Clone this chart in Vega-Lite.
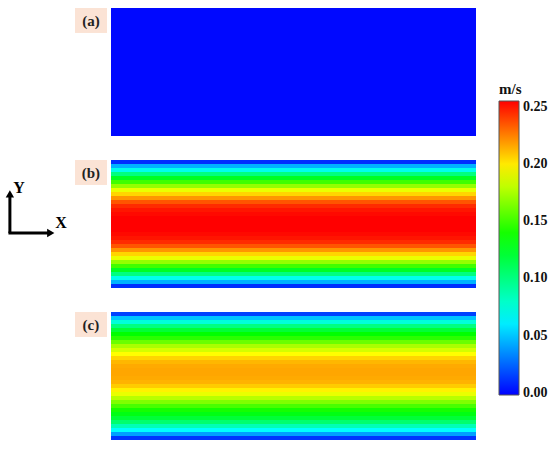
{
  "$schema": "https://vega.github.io/schema/vega-lite/v6.json",
  "background": "white",
  "padding": {"left": 5, "top": 8, "right": 5, "bottom": 5},
  "autosize": {"type": "pad"},
  "config": {"view": {"stroke": null}, "font": "Liberation Serif"},
  "datasets": {
    "a": [{"t0": 0, "t1": 1, "v": 0}],
    "b": [
      {"t0": 0.00000, "t1": 0.03125, "v": 0.010},
      {"t0": 0.03125, "t1": 0.06250, "v": 0.045},
      {"t0": 0.06250, "t1": 0.09375, "v": 0.070},
      {"t0": 0.09375, "t1": 0.12500, "v": 0.100},
      {"t0": 0.12500, "t1": 0.15625, "v": 0.125},
      {"t0": 0.15625, "t1": 0.18750, "v": 0.150},
      {"t0": 0.18750, "t1": 0.21875, "v": 0.170},
      {"t0": 0.21875, "t1": 0.25000, "v": 0.190},
      {"t0": 0.25000, "t1": 0.28125, "v": 0.205},
      {"t0": 0.28125, "t1": 0.31250, "v": 0.220},
      {"t0": 0.31250, "t1": 0.34375, "v": 0.235},
      {"t0": 0.34375, "t1": 0.37500, "v": 0.245},
      {"t0": 0.37500, "t1": 0.40625, "v": 0.250},
      {"t0": 0.40625, "t1": 0.43750, "v": 0.253},
      {"t0": 0.43750, "t1": 0.46875, "v": 0.255},
      {"t0": 0.46875, "t1": 0.50000, "v": 0.255},
      {"t0": 0.50000, "t1": 0.53125, "v": 0.255},
      {"t0": 0.53125, "t1": 0.56250, "v": 0.255},
      {"t0": 0.56250, "t1": 0.59375, "v": 0.253},
      {"t0": 0.59375, "t1": 0.62500, "v": 0.250},
      {"t0": 0.62500, "t1": 0.65625, "v": 0.245},
      {"t0": 0.65625, "t1": 0.68750, "v": 0.235},
      {"t0": 0.68750, "t1": 0.71875, "v": 0.220},
      {"t0": 0.71875, "t1": 0.75000, "v": 0.205},
      {"t0": 0.75000, "t1": 0.78125, "v": 0.190},
      {"t0": 0.78125, "t1": 0.81250, "v": 0.170},
      {"t0": 0.81250, "t1": 0.84375, "v": 0.150},
      {"t0": 0.84375, "t1": 0.87500, "v": 0.125},
      {"t0": 0.87500, "t1": 0.90625, "v": 0.100},
      {"t0": 0.90625, "t1": 0.93750, "v": 0.070},
      {"t0": 0.93750, "t1": 0.96875, "v": 0.045},
      {"t0": 0.96875, "t1": 1.00000, "v": 0.010}
    ],
    "c": [
      {"t0": 0.00000, "t1": 0.03125, "v": 0.015},
      {"t0": 0.03125, "t1": 0.06250, "v": 0.050},
      {"t0": 0.06250, "t1": 0.09375, "v": 0.075},
      {"t0": 0.09375, "t1": 0.12500, "v": 0.100},
      {"t0": 0.12500, "t1": 0.15625, "v": 0.120},
      {"t0": 0.15625, "t1": 0.18750, "v": 0.135},
      {"t0": 0.18750, "t1": 0.21875, "v": 0.145},
      {"t0": 0.21875, "t1": 0.25000, "v": 0.160},
      {"t0": 0.25000, "t1": 0.28125, "v": 0.175},
      {"t0": 0.28125, "t1": 0.31250, "v": 0.185},
      {"t0": 0.31250, "t1": 0.34375, "v": 0.195},
      {"t0": 0.34375, "t1": 0.37500, "v": 0.205},
      {"t0": 0.37500, "t1": 0.40625, "v": 0.212},
      {"t0": 0.40625, "t1": 0.43750, "v": 0.215},
      {"t0": 0.43750, "t1": 0.46875, "v": 0.216},
      {"t0": 0.46875, "t1": 0.50000, "v": 0.216},
      {"t0": 0.50000, "t1": 0.53125, "v": 0.215},
      {"t0": 0.53125, "t1": 0.56250, "v": 0.213},
      {"t0": 0.56250, "t1": 0.59375, "v": 0.207},
      {"t0": 0.59375, "t1": 0.62500, "v": 0.198},
      {"t0": 0.62500, "t1": 0.65625, "v": 0.190},
      {"t0": 0.65625, "t1": 0.68750, "v": 0.178},
      {"t0": 0.68750, "t1": 0.71875, "v": 0.165},
      {"t0": 0.71875, "t1": 0.75000, "v": 0.152},
      {"t0": 0.75000, "t1": 0.78125, "v": 0.140},
      {"t0": 0.78125, "t1": 0.81250, "v": 0.130},
      {"t0": 0.81250, "t1": 0.84375, "v": 0.120},
      {"t0": 0.84375, "t1": 0.87500, "v": 0.105},
      {"t0": 0.87500, "t1": 0.90625, "v": 0.085},
      {"t0": 0.90625, "t1": 0.93750, "v": 0.065},
      {"t0": 0.93750, "t1": 0.96875, "v": 0.040},
      {"t0": 0.96875, "t1": 1.00000, "v": 0.012}
    ]
  },
  "vconcat": [
    {
      "width": 365, "height": 128,
      "layer": [
        {
          "data": {"name": "a"},
          "mark": {"type": "rect"},
          "encoding": {
            "y": {"field": "t0", "type": "quantitative", "scale": {"domain": [0, 1], "reverse": true}, "axis": null},
            "y2": {"field": "t1"},
            "color": {"field": "v", "type": "quantitative",
              "scale": {"domain": [-0.002, 0.065, 0.135, 0.195, 0.255], "range": ["#0000ff", "#00ffff", "#00ff00", "#ffff00", "#ff0000"], "interpolate": "rgb"},
              "legend": {"orient": "none", "legendX": 388, "legendY": 74, "direction": "vertical", "gradientLength": 294, "gradientThickness": 20, "gradientStrokeColor": "#555", "gradientStrokeWidth": 1, "title": "m/s", "titleFont": "Liberation Serif", "titleFontSize": 15, "titleFontWeight": "bold", "titleColor": "#111", "titlePadding": 4, "labelFont": "Liberation Serif", "labelFontSize": 14, "labelFontWeight": "bold", "labelColor": "#111", "labelOffset": 4, "labelBaseline": "middle", "values": [0, 0.05, 0.1, 0.15, 0.2, 0.25], "format": ".2f"}}
          }
        },
        {
          "data": {"values": [{}]},
          "mark": {"type": "rect", "color": "#fbe3d5"},
          "encoding": {
            "x": {"datum": -0.0986, "type": "quantitative", "scale": {"domain": [0, 1]}, "axis": null},
            "x2": {"datum": -0.011},
            "y": {"datum": 0, "type": "quantitative", "axis": null},
            "y2": {"datum": 0.195}
          }
        },
        {
          "data": {"values": [{"label": "(a)"}]},
          "mark": {"type": "text", "font": "Liberation Serif", "fontWeight": "bold", "fontSize": 15, "color": "#222"},
          "encoding": {
            "x": {"datum": -0.055, "type": "quantitative", "scale": {"domain": [0, 1]}, "axis": null},
            "y": {"datum": 0.1, "type": "quantitative", "axis": null},
            "text": {"field": "label"}
          }
        }
      ]
    },
    {
      "width": 365, "height": 128,
      "layer": [
        {
          "data": {"name": "b"},
          "mark": {"type": "rect"},
          "encoding": {
            "y": {"field": "t0", "type": "quantitative", "scale": {"domain": [0, 1], "reverse": true}, "axis": null},
            "y2": {"field": "t1"},
            "color": {"field": "v", "type": "quantitative"}
          }
        },
        {
          "data": {"values": [{}]},
          "mark": {"type": "rect", "color": "#fbe3d5"},
          "encoding": {
            "x": {"datum": -0.0986, "type": "quantitative", "scale": {"domain": [0, 1]}, "axis": null},
            "x2": {"datum": -0.011},
            "y": {"datum": 0, "type": "quantitative", "axis": null},
            "y2": {"datum": 0.195}
          }
        },
        {
          "data": {"values": [{"label": "(b)"}]},
          "mark": {"type": "text", "font": "Liberation Serif", "fontWeight": "bold", "fontSize": 15, "color": "#222"},
          "encoding": {
            "x": {"datum": -0.055, "type": "quantitative", "scale": {"domain": [0, 1]}, "axis": null},
            "y": {"datum": 0.1, "type": "quantitative", "axis": null},
            "text": {"field": "label"}
          }
        },
        {
          "data": {"values": [{}]},
          "mark": {"type": "rule", "color": "black", "strokeWidth": 3},
          "encoding": {
            "x": {"datum": -0.277, "type": "quantitative", "scale": {"domain": [0, 1]}, "axis": null},
            "y": {"datum": 0.57, "type": "quantitative", "axis": null},
            "y2": {"datum": 0.27}
          }
        },
        {
          "data": {"values": [{}]},
          "mark": {"type": "rule", "color": "black", "strokeWidth": 3},
          "encoding": {
            "x": {"datum": -0.281, "type": "quantitative", "scale": {"domain": [0, 1]}, "axis": null},
            "x2": {"datum": -0.17},
            "y": {"datum": 0.57, "type": "quantitative", "axis": null}
          }
        },
        {
          "data": {"values": [{}]},
          "mark": {"type": "point", "shape": "triangle-up", "filled": true, "color": "black", "size": 70, "opacity": 1},
          "encoding": {
            "x": {"datum": -0.277, "type": "quantitative", "scale": {"domain": [0, 1]}, "axis": null},
            "y": {"datum": 0.265, "type": "quantitative", "axis": null}
          }
        },
        {
          "data": {"values": [{}]},
          "mark": {"type": "point", "shape": "triangle-right", "filled": true, "color": "black", "size": 70, "opacity": 1},
          "encoding": {
            "x": {"datum": -0.165, "type": "quantitative", "scale": {"domain": [0, 1]}, "axis": null},
            "y": {"datum": 0.57, "type": "quantitative", "axis": null}
          }
        },
        {
          "data": {"values": [{"label": "Y"}]},
          "mark": {"type": "text", "font": "Liberation Serif", "fontWeight": "bold", "fontSize": 16, "color": "black"},
          "encoding": {
            "x": {"datum": -0.252, "type": "quantitative", "scale": {"domain": [0, 1]}, "axis": null},
            "y": {"datum": 0.22, "type": "quantitative", "axis": null},
            "text": {"field": "label"}
          }
        },
        {
          "data": {"values": [{"label": "X"}]},
          "mark": {"type": "text", "font": "Liberation Serif", "fontWeight": "bold", "fontSize": 16, "color": "black"},
          "encoding": {
            "x": {"datum": -0.137, "type": "quantitative", "scale": {"domain": [0, 1]}, "axis": null},
            "y": {"datum": 0.49, "type": "quantitative", "axis": null},
            "text": {"field": "label"}
          }
        }
      ]
    },
    {
      "width": 365, "height": 128,
      "layer": [
        {
          "data": {"name": "c"},
          "mark": {"type": "rect"},
          "encoding": {
            "y": {"field": "t0", "type": "quantitative", "scale": {"domain": [0, 1], "reverse": true}, "axis": null},
            "y2": {"field": "t1"},
            "color": {"field": "v", "type": "quantitative"}
          }
        },
        {
          "data": {"values": [{}]},
          "mark": {"type": "rect", "color": "#fbe3d5"},
          "encoding": {
            "x": {"datum": -0.0986, "type": "quantitative", "scale": {"domain": [0, 1]}, "axis": null},
            "x2": {"datum": -0.011},
            "y": {"datum": 0, "type": "quantitative", "axis": null},
            "y2": {"datum": 0.195}
          }
        },
        {
          "data": {"values": [{"label": "(c)"}]},
          "mark": {"type": "text", "font": "Liberation Serif", "fontWeight": "bold", "fontSize": 15, "color": "#222"},
          "encoding": {
            "x": {"datum": -0.055, "type": "quantitative", "scale": {"domain": [0, 1]}, "axis": null},
            "y": {"datum": 0.1, "type": "quantitative", "axis": null},
            "text": {"field": "label"}
          }
        }
      ]
    }
  ],
  "spacing": 24,
  "bounds": "flush",
  "resolve": {"scale": {"color": "shared"}}
}
